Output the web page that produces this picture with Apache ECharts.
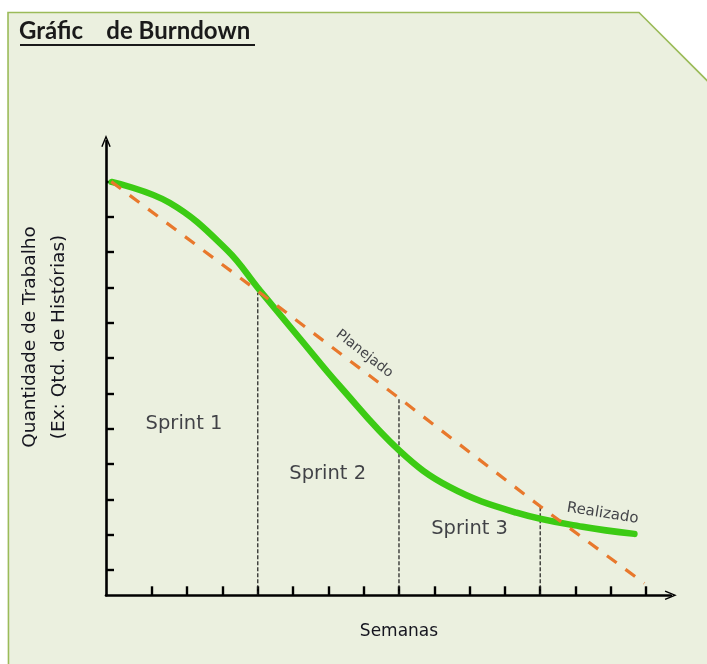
<!DOCTYPE html>
<html>
<head>
<meta charset="utf-8">
<script src="https://cdn.jsdelivr.net/npm/echarts@6.0.0/dist/echarts.min.js"></script>
<style>
  html, body { margin: 0; padding: 0; background: #ffffff; }
  #chart { width: 707px; height: 664px; }
</style>
</head>
<body>
<div id="chart"></div>
<script>
// semanas (eixo x) e quantidade de trabalho (eixo y)
const weekTicks = [1, 2, 3, 4, 5, 6, 7, 8, 9, 10, 11, 12, 13, 14, 15];
const workTicks = [1, 2, 3, 4, 5, 6, 7, 8, 9, 10, 11, 12];

// linha planejada (tracejada laranja)
const plannedWeeks = [-0.15, 4, 8, 12, 14.95];
const plannedWork = [12, 8.9, 5.87, 2.8, 0.62];

// linha realizada (verde)
const doneWeeks = [-0.14, 1.5, 3.12, 4.05, 5.18, 6.32, 8.02, 9.43, 11.33, 13.2, 14.67];
const doneWork = [11.99, 11.4, 10.07, 8.93, 7.57, 6.21, 4.37, 3.35, 2.62, 2.22, 2.02];

// fim de cada sprint
const sprintEnds = [4, 8, 12];
const sprintTops = [8.85, 5.87, 2.8];
const sprintNames = ['Sprint 1', 'Sprint 2', 'Sprint 3'];
const sprintLabelX = [1.91, 5.98, 10.0];
const sprintLabelY = [5.14, 3.72, 2.16];

const xMin = -0.3, xMax = 15.7;
const yMin = 0.28, yMax = 13.15;

const chart = echarts.init(document.getElementById('chart'));

const arrowPath = 'path://M0,12 L5,0 L10,12 L8.6,12.6 L5,3.6 L1.4,12.6 Z';
const sansFont = '"DejaVu Sans", sans-serif';
const textColor = '#15151f';

const series = [];

// linhas verticais dos sprints
sprintEnds.forEach((w, i) => {
  series.push({
    type: 'line',
    data: [[w, yMin], [w, sprintTops[i]]],
    symbol: 'none',
    silent: true,
    z: 1,
    lineStyle: { color: '#1a1a1a', width: 1.2, type: [4, 2] }
  });
});

series.push({
  name: 'Realizado',
  type: 'line',
  data: doneWeeks.map((w, i) => [w, doneWork[i]]),
  smooth: 0.4,
  symbol: 'none',
  z: 3,
  lineStyle: { color: '#3ccb14', width: 6.5, cap: 'round' }
});

series.push({
  name: 'Planejado',
  type: 'line',
  data: plannedWeeks.map((w, i) => [w, plannedWork[i]]),
  symbol: 'none',
  z: 4,
  lineStyle: { color: '#e8782c', width: 3.2, type: [12, 11] }
});

// textos dos sprints
series.push({
  type: 'scatter',
  symbolSize: 0,
  silent: true,
  z: 5,
  data: sprintNames.map((n, i) => [sprintLabelX[i], sprintLabelY[i], n]),
  label: {
    show: true,
    position: 'inside',
    formatter: p => p.data[2],
    fontFamily: sansFont,
    fontSize: 19.5,
    color: textColor
  }
});

// rótulos das linhas
series.push({
  type: 'scatter',
  symbolSize: 0,
  silent: true,
  z: 5,
  data: [
    { value: [7.02, 7.12], name: 'Planejado', label: { rotate: -38, fontSize: 14 } },
    { value: [13.77, 2.6], name: 'Realizado', label: { rotate: -9, fontSize: 15 } }
  ],
  label: {
    show: true,
    position: 'inside',
    formatter: p => p.name,
    fontFamily: sansFont,
    color: textColor
  }
});

const option = {
  backgroundColor: '#ffffff',
  animation: false,
  grid: {
    left: 106,
    top: 141,
    width: 564.8,
    height: 454.3,
    containLabel: false,
    outerBoundsMode: 'none'
  },
  xAxis: {
    type: 'value',
    min: xMin,
    max: xMax,
    splitLine: { show: false },
    axisLabel: { show: false },
    axisLine: {
      show: true,
      onZero: false,
      symbol: ['none', arrowPath],
      symbolSize: [10, 12],
      lineStyle: { color: '#000', width: 2.6 }
    },
    axisTick: {
      show: true,
      inside: true,
      length: 9,
      customValues: weekTicks,
      lineStyle: { color: '#000', width: 2.4 }
    }
  },
  yAxis: {
    type: 'value',
    min: yMin,
    max: yMax,
    splitLine: { show: false },
    axisLabel: { show: false },
    axisLine: {
      show: true,
      onZero: false,
      symbol: ['none', arrowPath],
      symbolSize: [10, 12],
      lineStyle: { color: '#000', width: 2.6 }
    },
    axisTick: {
      show: true,
      inside: true,
      length: 8,
      customValues: workTicks,
      lineStyle: { color: '#000', width: 2.4 }
    }
  },
  graphic: [
    {
      type: 'polygon',
      z: -10,
      silent: true,
      shape: { points: [[8, 12.5], [639, 12.5], [720, 93.5], [720, 680], [8.5, 680]] },
      style: { fill: '#ebf0df', stroke: '#9bbb59', lineWidth: 1.6 }
    },
    {
      type: 'text',
      left: 19,
      top: 19,
      silent: true,
      style: {
        text: 'Gráfic    de Burndown',
        fontFamily: 'Lato, "Liberation Sans", sans-serif',
        fontWeight: 'bold',
        fontSize: 24,
        fill: '#1a1a1a'
      }
    },
    {
      type: 'line',
      silent: true,
      shape: { x1: 20, y1: 45, x2: 255, y2: 45 },
      style: { stroke: '#1a1a1a', lineWidth: 2 }
    },
    {
      type: 'text',
      x: 45,
      y: 337,
      rotation: Math.PI / 2,
      silent: true,
      style: {
        text: 'Quantidade de Trabalho\n(Ex: Qtd. de Histórias)',
        fontFamily: sansFont,
        fontSize: 18.5,
        lineHeight: 29,
        align: 'center',
        verticalAlign: 'middle',
        fill: textColor
      }
    },
    {
      type: 'text',
      x: 399,
      y: 632,
      silent: true,
      style: {
        text: 'Semanas',
        fontFamily: sansFont,
        fontSize: 17,
        align: 'center',
        verticalAlign: 'middle',
        fill: textColor
      }
    }
  ],
  series: series
};

chart.setOption(option);
</script>
</body>
</html>
